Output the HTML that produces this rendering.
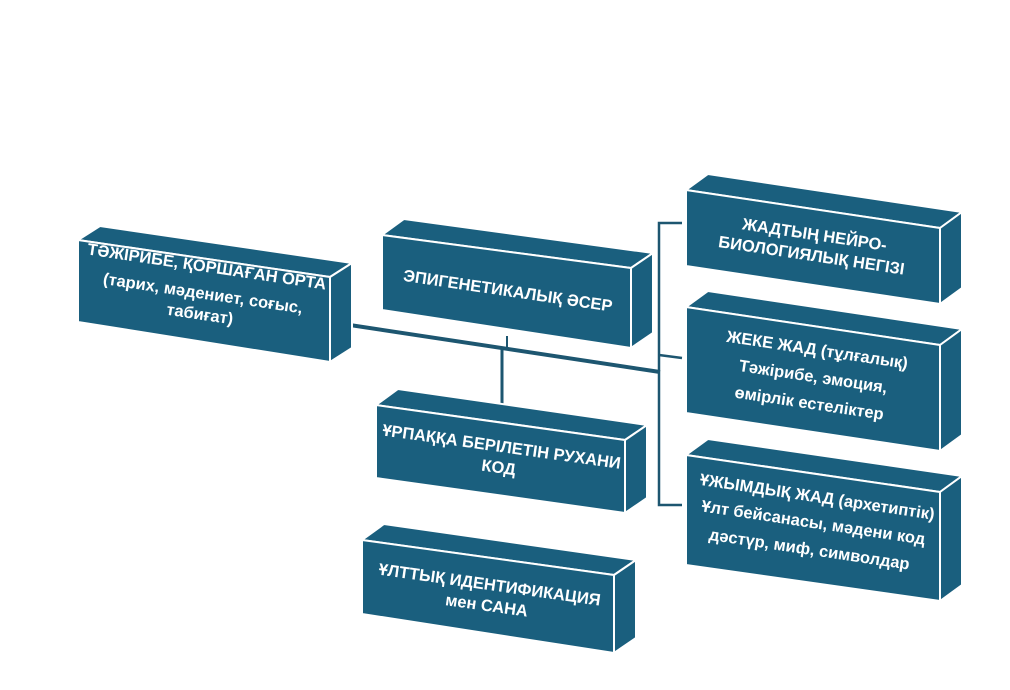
<!DOCTYPE html>
<html><head><meta charset="utf-8"><style>
html,body{margin:0;padding:0;background:#fff;width:1010px;height:690px;overflow:hidden}
svg text{font-family:"Liberation Sans","DejaVu Sans",sans-serif;font-weight:bold;fill:#fff;text-anchor:middle}
</style></head><body>
<svg width="1010" height="690" viewBox="0 0 1010 690" xmlns="http://www.w3.org/2000/svg">
<g stroke="#1d5670" fill="none">
<line x1="330" y1="322" x2="660" y2="372" stroke-width="4"/>
<line x1="502" y1="348" x2="502" y2="406" stroke-width="3"/>
<line x1="507" y1="336" x2="507" y2="348" stroke-width="2"/>
<polyline points="682,223 659,223 659,505 682,505" stroke-width="2.5"/>
<line x1="659" y1="355" x2="682" y2="358" stroke-width="2.5"/>
</g>
<g fill="#1a5f7e" stroke="#fff" stroke-width="2" stroke-linejoin="miter">
<polygon points="78,240 100,226 352,263 330,277"/>
<polygon points="330,277 352,263 352,348 330,362"/>
<polygon points="78,240 330,277 330,362 78,322"/>
<polygon points="382,235 404,219 653,253 631,268"/>
<polygon points="631,268 653,253 653,333 631,348"/>
<polygon points="382,235 631,268 631,348 382,310"/>
<polygon points="376,405 398,389 647,425 625,440"/>
<polygon points="625,440 647,425 647,498 625,513"/>
<polygon points="376,405 625,440 625,513 376,478"/>
<polygon points="362,540 384,524 636,560 614,575"/>
<polygon points="614,575 636,560 636,638 614,653"/>
<polygon points="362,540 614,575 614,653 362,614"/>
<polygon points="686,190 708,174 962,212 940,228"/>
<polygon points="940,228 962,212 962,288 940,304"/>
<polygon points="686,190 940,228 940,304 686,266"/>
<polygon points="686,307 708,291 962,329 940,345"/>
<polygon points="940,345 962,329 962,435 940,451"/>
<polygon points="686,307 940,345 940,451 686,413"/>
<polygon points="686,455 708,439 962,476 940,492"/>
<polygon points="940,492 962,476 962,585 940,601"/>
<polygon points="686,455 940,492 940,601 686,565"/>
</g>
<g font-size="16.5">
<g transform="rotate(8.4 204 300)">
<text x="202" y="272">ТӘЖІРИБЕ, ҚОРШАҒАН ОРТА</text>
<text x="202" y="299">(тарих, мәдениет, соғыс,</text>
<text x="202" y="320">табиғат)</text>
</g>
<g transform="rotate(8.4 506 290)"><text x="508" y="296">ЭПИГЕНЕТИКАЛЫҚ ӘСЕР</text></g>
<g transform="rotate(8 500 458)">
<text x="500" y="452">ҰРПАҚҚА БЕРІЛЕТІН РУХАНИ</text>
<text x="500" y="473">КОД</text>
</g>
<g transform="rotate(8 488 596)">
<text x="488" y="590">ҰЛТТЫҚ ИДЕНТИФИКАЦИЯ</text>
<text x="488" y="611">мен САНА</text>
</g>
<g transform="rotate(8.5 813 245)">
<text x="813" y="240">ЖАДТЫҢ НЕЙРО-</text>
<text x="813" y="261">БИОЛОГИЯЛЫҚ НЕГІЗІ</text>
</g>
<g transform="rotate(8.5 813 378)">
<text x="813" y="355">ЖЕКЕ ЖАД (тұлғалық)</text>
<text x="813" y="382">Тәжірибе, эмоция,</text>
<text x="813" y="409">өмірлік естеліктер</text>
</g>
<g transform="rotate(8.5 813 525)">
<text x="813" y="502">ҰЖЫМДЫҚ ЖАД (архетиптік)</text>
<text x="813" y="528">Ұлт бейсанасы, мәдени код</text>
<text x="813" y="555">дәстүр, миф, символдар</text>
</g>
</g>
</svg>
</body></html>
